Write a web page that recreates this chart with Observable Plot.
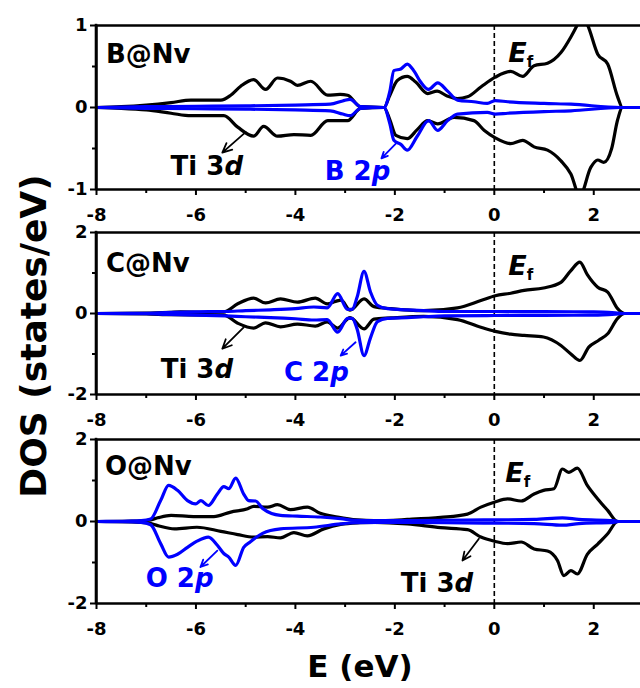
<!DOCTYPE html>
<html><head><meta charset="utf-8">
<script src="https://cdn.jsdelivr.net/npm/d3@7"></script>
<script src="https://cdn.jsdelivr.net/npm/@observablehq/plot@0.6"></script>
<style>
body{margin:0;background:#fff;}
#wrap{position:relative;width:640px;height:688px;overflow:hidden;font-family:"DejaVu Sans",sans-serif;background:#fff;}
#wrap > svg{position:absolute;left:0;}
</style></head><body><div id="wrap"></div>
<script>
// ---- tick values ----
const energyTicks = [-8, -6, -4, -2, 0, 2];
const energyMinor = [-7, -5, -3, -1, 1];
const yTicksB = [-1, 0, 1];
const yMinorB = [-0.5, 0.5];
const yTicksCO = [-2, 0, 2];
const yMinorCO = [-1, 1];
const panelNames = ["B@Nv", "C@Nv", "O@Nv"];
const orbitalNames = ["B 2", "C 2", "O 2"];

// ---- B@Nv : [E (eV), DOS] ----
const bTiUp = [[-8,0],[-7.5,0.01],[-7,0.03],[-6.5,0.06],[-6.1,0.09],[-5.5,0.09],[-5.3,0.15],[-5.1,0.26],[-4.84,0.34],[-4.6,0.22],[-4.36,0.36],[-4.1,0.32],[-3.96,0.27],[-3.69,0.32],[-3.35,0.15],[-3.1,0.16],[-2.95,0.15],[-2.69,0.01],[-2.22,0],[-2.1,0.15],[-1.95,0.33],[-1.75,0.38],[-1.58,0.31],[-1.34,0.17],[-1.15,0.2],[-0.95,0.14],[-0.74,0.11],[-0.54,0.13],[-0.27,0.25],[0.02,0.37],[0.33,0.44],[0.57,0.38],[0.8,0.51],[1.07,0.54],[1.34,0.67],[1.54,0.86],[1.68,1.02],[1.76,1.12],[1.88,1.0],[2.08,0.65],[2.28,0.53],[2.48,0.13],[2.58,0],[2.94,0]];
const bTiDn = [[-8,0],[-7.5,-0.01],[-7,-0.03],[-6.5,-0.07],[-6.1,-0.1],[-5.44,-0.1],[-5.16,-0.24],[-4.84,-0.35],[-4.64,-0.23],[-4.36,-0.35],[-4.03,-0.33],[-3.69,-0.34],[-3.35,-0.16],[-2.95,-0.16],[-2.69,-0.01],[-2.22,0],[-2.1,-0.15],[-1.98,-0.34],[-1.75,-0.38],[-1.55,-0.27],[-1.34,-0.16],[-1.14,-0.2],[-0.81,-0.12],[-0.41,-0.16],[-0.2,-0.28],[0.02,-0.37],[0.33,-0.44],[0.57,-0.4],[0.8,-0.48],[1.07,-0.52],[1.34,-0.65],[1.54,-0.81],[1.72,-1.08],[1.94,-0.73],[2.08,-0.64],[2.2,-0.67],[2.36,-0.5],[2.48,-0.15],[2.58,0],[2.94,0]];
const bPUp = [[-8,0],[-7,0.01],[-6,0.015],[-5,0.02],[-4,0.03],[-3.3,0.04],[-3.05,0.08],[-2.9,0.1],[-2.69,0.01],[-2.22,0],[-2.1,0.2],[-2.02,0.45],[-1.88,0.47],[-1.75,0.53],[-1.61,0.44],[-1.48,0.31],[-1.32,0.22],[-1.14,0.3],[-0.94,0.2],[-0.74,0.09],[-0.41,0.07],[-0.14,0.05],[0.02,0.085],[0.27,0.07],[1.0,0.05],[1.54,0.04],[2.54,0],[2.94,0]];
const bPDn = [[-8,0],[-7,-0.01],[-6,-0.015],[-5,-0.02],[-4,-0.03],[-3.3,-0.04],[-3.05,-0.08],[-2.9,-0.1],[-2.69,-0.01],[-2.22,0],[-2.1,-0.2],[-2.02,-0.4],[-1.88,-0.45],[-1.75,-0.52],[-1.55,-0.35],[-1.32,-0.16],[-1.14,-0.28],[-0.94,-0.16],[-0.74,-0.08],[-0.14,-0.06],[0.02,-0.08],[0.27,-0.07],[1.0,-0.05],[1.54,-0.04],[2.54,0],[2.94,0]];

// ---- C@Nv ----
const cTiUp = [[-8,0],[-7,0.01],[-6.5,0.03],[-6.31,0.04],[-5.8,0.03],[-5.44,0.04],[-5.16,0.24],[-4.84,0.38],[-4.6,0.26],[-4.3,0.36],[-3.96,0.28],[-3.6,0.38],[-3.36,0.24],[-3.19,0.3],[-3.08,0.33],[-2.9,0.08],[-2.62,0.36],[-2.42,0.17],[-2.08,0.12],[-1.42,0.07],[-0.74,0.14],[-0.27,0.32],[0.02,0.44],[0.33,0.5],[0.6,0.57],[0.99,0.63],[1.34,0.77],[1.54,1.06],[1.72,1.27],[1.87,0.96],[2.08,0.65],[2.28,0.53],[2.48,0.12],[2.62,0],[2.94,0]];
const cTiDn = [[-8,0],[-7,-0.01],[-6.5,-0.03],[-5.44,-0.04],[-5.16,-0.24],[-4.84,-0.36],[-4.6,-0.23],[-4.3,-0.33],[-3.96,-0.26],[-3.6,-0.31],[-3.36,-0.21],[-3.15,-0.36],[-2.9,-0.1],[-2.62,-0.38],[-2.42,-0.14],[-2.08,-0.11],[-1.42,-0.07],[-0.74,-0.15],[-0.27,-0.34],[0.02,-0.44],[0.33,-0.51],[0.6,-0.54],[0.99,-0.58],[1.34,-0.79],[1.54,-1.0],[1.72,-1.16],[1.9,-0.83],[2.1,-0.66],[2.28,-0.5],[2.48,-0.12],[2.62,0],[2.94,0]];
const cPUp = [[-8,0],[-7,0.005],[-6.6,0.02],[-6,0.04],[-5.4,0.05],[-5,0.07],[-4.5,0.09],[-4,0.12],[-3.63,0.16],[-3.36,0.14],[-3.15,0.49],[-2.95,0.1],[-2.86,0.1],[-2.76,0.4],[-2.62,1.04],[-2.49,0.53],[-2.35,0.2],[-2.15,0.12],[-1.75,0.09],[-1.42,0.07],[-1,0.05],[0,0.05],[1,0.045],[2,0.04],[2.5,0.01],[2.62,0],[2.94,0]];
const cPDn = [[-8,0],[-7,-0.005],[-6.6,-0.02],[-6,-0.04],[-5.4,-0.06],[-5,-0.08],[-4.5,-0.1],[-4,-0.13],[-3.63,-0.16],[-3.36,-0.15],[-3.15,-0.46],[-2.95,-0.12],[-2.86,-0.12],[-2.76,-0.38],[-2.62,-1.04],[-2.49,-0.6],[-2.35,-0.2],[-2.15,-0.12],[-1.75,-0.1],[-1.42,-0.08],[-1,-0.06],[0,-0.05],[1,-0.045],[2,-0.04],[2.5,-0.01],[2.62,0],[2.94,0]];

// ---- O@Nv ----
const oTiUp = [[-8,0],[-7.3,0.01],[-6.95,0.03],[-6.77,0.09],[-6.5,0.15],[-6.05,0.12],[-5.64,0.12],[-5.3,0.23],[-4.96,0.31],[-4.84,0.37],[-4.56,0.35],[-4.36,0.41],[-4.1,0.29],[-3.76,0.35],[-3.5,0.2],[-3.15,0.11],[-2.76,0.04],[-2.42,0.02],[-1.75,0.05],[-1.08,0.1],[-0.54,0.18],[-0.27,0.35],[0,0.47],[0.27,0.55],[0.54,0.5],[0.8,0.67],[0.99,0.76],[1.2,0.8],[1.37,1.28],[1.5,1.2],[1.67,1.3],[1.87,0.88],[2.08,0.55],[2.28,0.27],[2.48,0],[2.94,0]];
const oTiDn = [[-8,0],[-7.3,-0.01],[-6.95,-0.04],[-6.77,-0.1],[-6.43,-0.18],[-5.98,-0.14],[-5.5,-0.24],[-5.16,-0.32],[-4.84,-0.38],[-4.56,-0.37],[-4.3,-0.4],[-4.03,-0.27],[-3.76,-0.35],[-3.43,-0.18],[-3.09,-0.07],[-2.7,-0.03],[-2.4,-0.02],[-1.75,-0.06],[-1.08,-0.15],[-0.54,-0.2],[-0.27,-0.38],[0,-0.48],[0.27,-0.54],[0.54,-0.5],[0.8,-0.67],[1.07,-0.72],[1.27,-0.95],[1.4,-1.32],[1.54,-1.2],[1.67,-1.28],[1.87,-0.8],[2.08,-0.55],[2.28,-0.3],[2.48,0],[2.94,0]];
const oPUp = [[-8,0],[-7.5,0.005],[-7.1,0.02],[-6.91,0.06],[-6.71,0.51],[-6.55,0.88],[-6.37,0.76],[-6.17,0.51],[-6.0,0.43],[-5.9,0.51],[-5.75,0.39],[-5.57,0.67],[-5.44,0.85],[-5.34,0.8],[-5.2,1.06],[-5.04,0.67],[-4.94,0.51],[-4.8,0.5],[-4.66,0.32],[-4.3,0.15],[-3.96,0.13],[-3.5,0.11],[-3.09,0.07],[-2.8,0.03],[-2.3,0.02],[-1,0.03],[0,0.04],[0.8,0.05],[1.37,0.09],[1.7,0.05],[2.4,0.02],[2.5,0],[2.94,0]];
const oPDn = [[-8,0],[-7.5,-0.005],[-7.1,-0.02],[-6.91,-0.08],[-6.71,-0.54],[-6.55,-0.87],[-6.37,-0.8],[-6.17,-0.63],[-5.98,-0.48],[-5.75,-0.38],[-5.57,-0.58],[-5.44,-0.78],[-5.34,-0.87],[-5.2,-1.07],[-5.04,-0.63],[-4.91,-0.5],[-4.66,-0.29],[-4.3,-0.18],[-3.63,-0.14],[-3.09,-0.06],[-2.8,-0.03],[-2.3,-0.02],[-1,-0.03],[0,-0.04],[0.8,-0.05],[1.37,-0.09],[1.7,-0.05],[2.4,-0.02],[2.5,0],[2.94,0]];

const BLUE = "#0000ff";
const FONT = "DejaVu Sans";
const wrap = document.getElementById("wrap");
const frames = [];

function panel(cfg) {
  const h = cfg.h;
  const line = (data, stroke) => Plot.line(data, {x: d => d[0], y: d => d[1], stroke, strokeWidth: 3.2, curve: "monotone-x", clip: true});
  const plot = Plot.plot({
    width: 640, height: 25 + h + 35,
    marginTop: 25, marginBottom: 35, marginLeft: 96, marginRight: 0,
    x: {domain: [-8, 2.94]},
    y: {domain: cfg.yDomain},
    style: {background: "transparent", overflow: "visible", fontFamily: FONT, fontWeight: "bold", fontSize: "18px", color: "#000"},
    marks: [
      Plot.ruleX([0], {stroke: "#000", strokeWidth: 1.6, strokeDasharray: "5,3"}),
      line(cfg.tiUp, "#000"), line(cfg.tiDn, "#000"),
      line(cfg.pUp, BLUE), line(cfg.pDn, BLUE),
      Plot.ruleY([cfg.yDomain[1]], {stroke: "#000", strokeWidth: 2.4}),
      Plot.ruleY([cfg.yDomain[0]], {stroke: "#000", strokeWidth: 2.4}),
      Plot.ruleX([-8], {stroke: "#000", strokeWidth: 2.4}),
      Plot.axisX({ticks: energyTicks, tickSize: 6, tickPadding: 13, tickFormat: d => String(d), strokeWidth: 2, label: null, fontSize: 18}),
      Plot.axisX({ticks: energyMinor, tickSize: 4, tickFormat: () => "", strokeWidth: 2, label: null}),
      Plot.axisY({ticks: cfg.yMajor, tickSize: 6, tickPadding: 3, tickFormat: d => String(d), strokeWidth: 2, label: null, fontSize: 18}),
      Plot.axisY({ticks: cfg.yMinor, tickSize: 4, tickFormat: () => "", strokeWidth: 2, label: null}),
      Plot.arrow(cfg.arrows, {x1: "x1", y1: "y1", x2: "x2", y2: "y2", stroke: "c", strokeWidth: 1.8, headLength: 9, headAngle: 50})
    ]
  });
  plot.style.top = cfg.top + "px";
  wrap.appendChild(plot);
  const sx = plot.scale("x"), sy = plot.scale("y");
  frames.push({x: sx.apply(-8), y1: cfg.top + sy.apply(cfg.yDomain[1]), y2: cfg.top + sy.apply(cfg.yDomain[0])});
  const svg = d3.select(plot);
  function rich(x, y, parts, color, size) {
    const t = svg.append("text").attr("x", sx.apply(x)).attr("y", sy.apply(y))
      .attr("text-anchor", "start")
      .attr("fill", color).attr("font-family", FONT).attr("font-weight", "bold").attr("font-size", size);
    for (const p of parts) {
      const ts = t.append("tspan").text(p.t);
      if (p.i) ts.attr("font-style", "italic");
      if (p.s) ts.attr("font-size", p.s);
      if (p.dy) ts.attr("dy", p.dy);
    }
  }
  rich(cfg.name[0], cfg.name[1], [{t: cfg.nameText}], "#000", 26);
  rich(cfg.ti[0], cfg.ti[1], [{t: "Ti 3"}, {t: "d", i: true}], "#000", 26);
  rich(cfg.orb[0], cfg.orb[1], [{t: cfg.orbText}, {t: "p", i: true}], BLUE, 26);
  rich(cfg.ef[0], cfg.ef[1], [{t: "E", i: true}, {t: "f", s: 15, dy: 5}], "#000", 27);
}

panel({top: 0, h: 164, yDomain: [-1, 1], yMajor: yTicksB, yMinor: yMinorB,
  tiUp: bTiUp, tiDn: bTiDn, pUp: bPUp, pDn: bPDn,
  nameText: panelNames[0], orbText: orbitalNames[0],
  name: [-7.8, 0.54], ti: [-6.5, -0.83], orb: [-3.4, -0.89], ef: [0.29, 0.55],
  arrows: [{x1: -5.0, y1: -0.3, x2: -5.47, y2: -0.55, c: "#000"}, {x1: -1.98, y1: -0.44, x2: -2.27, y2: -0.62, c: BLUE}]});

panel({top: 207, h: 162, yDomain: [-2, 2], yMajor: yTicksCO, yMinor: yMinorCO,
  tiUp: cTiUp, tiDn: cTiDn, pUp: cPUp, pDn: cPDn,
  nameText: panelNames[1], orbText: orbitalNames[1],
  name: [-7.8, 1.02], ti: [-6.7, -1.61], orb: [-4.22, -1.68], ef: [0.29, 0.94],
  arrows: [{x1: -5.04, y1: -0.34, x2: -5.47, y2: -0.87, c: "#000"}, {x1: -2.79, y1: -0.71, x2: -3.09, y2: -1.04, c: BLUE}]});

panel({top: 414, h: 164, yDomain: [-2, 2], yMajor: yTicksCO, yMinor: yMinorCO,
  tiUp: oTiUp, tiDn: oTiDn, pUp: oPUp, pDn: oPDn,
  nameText: panelNames[2], orbText: orbitalNames[2],
  name: [-7.82, 1.12], ti: [-1.87, -1.72], orb: [-7.0, -1.6], ef: [0.23, 0.96],
  arrows: [{x1: -0.31, y1: -0.42, x2: -0.64, y2: -0.95, c: "#000"}, {x1: -5.57, y1: -0.71, x2: -5.91, y2: -1.11, c: BLUE}]});

// overlay: axis titles + left frame edges
const ov = d3.select(wrap).append("svg").attr("width", 640).attr("height", 688).style("top", "0px").style("pointer-events", "none");
for (const f of frames) {
  ov.append("path").attr("d", `M${f.x},${f.y1 - 1.2}V${f.y2 + 1.2}`)
    .attr("stroke", "#000").attr("stroke-width", 2.6).attr("fill", "none");
}
ov.append("text").attr("transform", "translate(46,336) rotate(-90)").attr("text-anchor", "middle")
  .attr("font-family", FONT).attr("font-weight", "bold").attr("font-size", 36).attr("fill", "#000").text("DOS (states/eV)");
ov.append("text").attr("x", 360).attr("y", 677).attr("text-anchor", "middle")
  .attr("font-family", FONT).attr("font-weight", "bold").attr("font-size", 31).attr("fill", "#000").text("E (eV)");
</script></body></html>
